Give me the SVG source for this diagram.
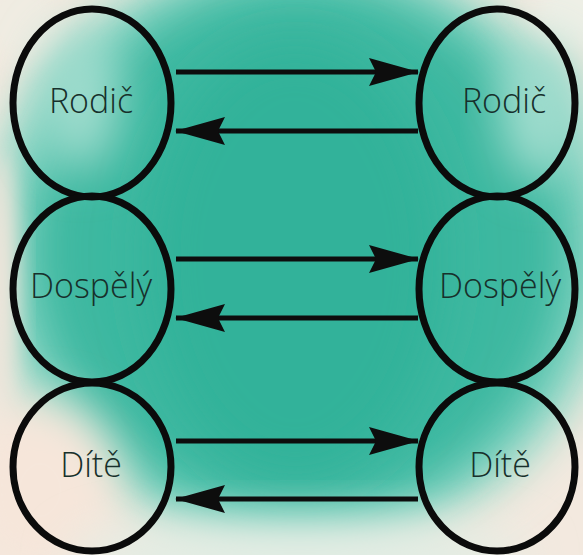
<svg xmlns="http://www.w3.org/2000/svg" width="583" height="555" viewBox="0 0 583 555">
<defs>
<filter id="blur" x="-50%" y="-50%" width="200%" height="200%"><feGaussianBlur stdDeviation="24"/></filter>
<filter id="blur2" x="-50%" y="-50%" width="200%" height="200%"><feGaussianBlur stdDeviation="12"/></filter>
<marker id="head" viewBox="0 0 50 28" refX="49" refY="14" markerWidth="50" markerHeight="28" markerUnits="userSpaceOnUse" orient="auto">
<path d="M0,0 L50,14 L0,28 L7,14 Z" fill="#0d0d0d"/>
</marker>
<style>
.node ellipse{fill:none;stroke:#0b0b0b;stroke-width:7}
.node text{font-family:"Open Sans","Noto Sans","DejaVu Sans",sans-serif;font-weight:300;font-size:34px;fill:#17302b;text-anchor:middle;dominant-baseline:central}
.conn line{stroke:#0d0d0d;stroke-width:5;marker-end:url(#head)}
</style>
</defs>
<g id="background">
<rect width="583" height="555" fill="#f3e9df"/>
<ellipse cx="300" cy="250" rx="315" ry="295" fill="#86d6c4" filter="url(#blur)"/>
<ellipse cx="300" cy="250" rx="270" ry="268" fill="#3db8a0" filter="url(#blur)"/>
<ellipse cx="295" cy="260" rx="150" ry="220" fill="#33b29a" filter="url(#blur)"/>
<ellipse cx="40" cy="490" rx="80" ry="90" fill="#f6e6da" filter="url(#blur)"/>
<ellipse cx="300" cy="560" rx="230" ry="40" fill="#e2ede4" filter="url(#blur)"/>
<ellipse cx="0" cy="280" rx="18" ry="130" fill="#f3e6dc" filter="url(#blur2)"/>
<ellipse cx="20" cy="20" rx="40" ry="40" fill="#f0ece2" filter="url(#blur2)"/>
<ellipse cx="575" cy="10" rx="40" ry="40" fill="#eeefe6" filter="url(#blur2)"/>
<ellipse cx="80" cy="100" rx="40" ry="70" fill="#9fdccd" filter="url(#blur)"/>
<ellipse cx="540" cy="110" rx="40" ry="70" fill="#9fdccd" filter="url(#blur)"/>
</g>
<g id="connectors" class="conn">
<line x1="176" y1="72" x2="418" y2="72"/>
<line x1="418" y1="131" x2="176" y2="131"/>
<line x1="176" y1="259" x2="418" y2="259"/>
<line x1="418" y1="318" x2="176" y2="318"/>
<line x1="176" y1="441" x2="418" y2="441"/>
<line x1="418" y1="499" x2="176" y2="499"/>
</g>
<g id="node-rodic-left" class="node"><ellipse cx="92" cy="103" rx="79" ry="94"/><text x="91" y="100">Rodič</text></g>
<g id="node-rodic-right" class="node"><ellipse cx="497" cy="103" rx="78" ry="94"/><text x="504" y="100">Rodič</text></g>
<g id="node-dospely-left" class="node"><ellipse cx="92" cy="289" rx="79" ry="93"/><text x="91" y="285">Dospělý</text></g>
<g id="node-dospely-right" class="node"><ellipse cx="497" cy="289" rx="78" ry="93"/><text x="500" y="285">Dospělý</text></g>
<g id="node-dite-left" class="node"><ellipse cx="92" cy="467" rx="79" ry="84"/><text x="91" y="464">Dítě</text></g>
<g id="node-dite-right" class="node"><ellipse cx="497" cy="467" rx="78" ry="84"/><text x="500" y="464">Dítě</text></g>
</svg>
